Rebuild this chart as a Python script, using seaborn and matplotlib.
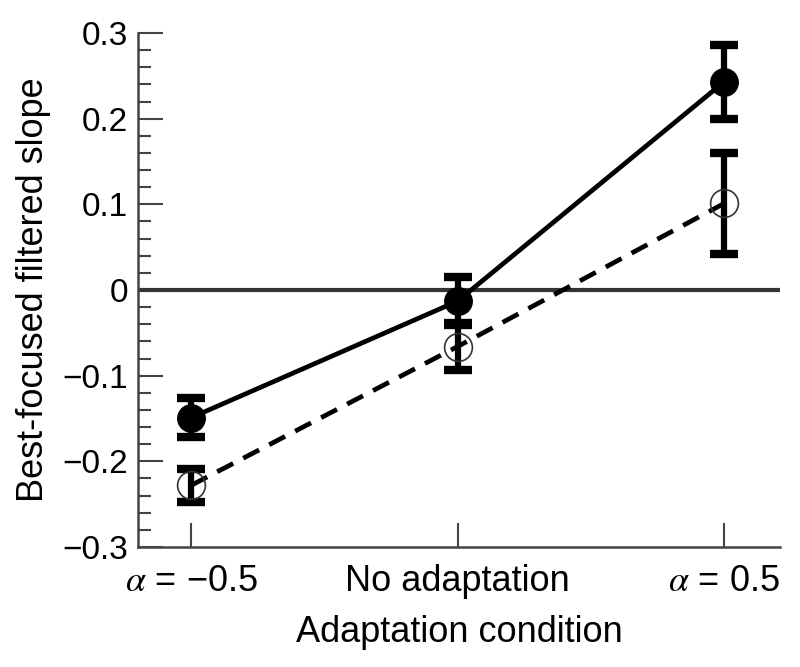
import numpy as np
import pandas as pd
import matplotlib
matplotlib.use('Agg')
import matplotlib.pyplot as plt
import seaborn as sns
from matplotlib.ticker import MultipleLocator

conditions = [r'$\alpha$ = −0.5', 'No adaptation', r'$\alpha$ = 0.5']
filled_mean = [-0.149, -0.013, 0.243]
filled_err = [0.023, 0.028, 0.043]
open_mean = [-0.228, -0.066, 0.101]
open_err = [0.019, 0.027, 0.059]
y_ticks = [-0.3, -0.2, -0.1, 0, 0.1, 0.2, 0.3]
y_ticklabels = ['−0.3', '−0.2', '−0.1', '0', '0.1', '0.2', '0.3']

sns.set_theme(style='ticks')
plt.rcParams['font.family'] = ['Liberation Sans', 'DejaVu Sans']
plt.rcParams['mathtext.fontset'] = 'stix'
plt.rcParams['text.color'] = 'black'
plt.rcParams['axes.labelcolor'] = 'black'
plt.rcParams['xtick.labelcolor'] = 'black'
plt.rcParams['ytick.labelcolor'] = 'black'

x = np.arange(len(conditions))
df = pd.DataFrame({'x': np.concatenate([x, x]),
                   'slope': filled_mean + open_mean,
                   'group': ['filled'] * 3 + ['open'] * 3})

fig = plt.figure(figsize=(8, 6.67), dpi=100)
ax = fig.add_axes([0.1725, 0.18, 0.8025, 0.7705])

ax.axhline(0, color='#333333', lw=3, zorder=1)

# error bars
ax.errorbar(x, open_mean, yerr=open_err, fmt='none', ecolor='black',
            elinewidth=4.5, capsize=10, capthick=6, zorder=2)
ax.errorbar(x, filled_mean, yerr=filled_err, fmt='none', ecolor='black',
            elinewidth=4.5, capsize=10, capthick=6, zorder=2)

sns.lineplot(data=df[df.group == 'filled'], x='x', y='slope', ax=ax,
             color='black', lw=3.4, marker='o', markersize=20,
             markerfacecolor='black', markeredgecolor='black', zorder=3)
sns.lineplot(data=df[df.group == 'open'], x='x', y='slope', ax=ax,
             color='black', lw=3.4, zorder=3)
ax.lines[-1].set_dashes([3.8, 2.4])
ax.plot(x, open_mean, 'o', markersize=20, markerfacecolor='none',
        markeredgecolor='#333333', markeredgewidth=1.2, zorder=4)

ax.set_xlim(-0.2, 2.21)
ax.set_ylim(-0.3, 0.3)
ax.set_xticks(x)
ax.set_xticklabels(conditions, fontsize=26)
ax.set_yticks(y_ticks)
ax.set_yticklabels(y_ticklabels)
ax.yaxis.set_minor_locator(MultipleLocator(0.02))
ax.tick_params(axis='y', which='major', direction='in', length=18, width=1.5,
               color='#444444', labelsize=24, pad=7)
ax.tick_params(axis='y', which='minor', direction='in', length=9, width=1.5,
               color='#444444')
ax.tick_params(axis='x', direction='in', length=17, width=1.5,
               color='#444444', pad=12)

for s in ['top', 'right']:
    ax.spines[s].set_visible(False)
for s in ['left', 'bottom']:
    ax.spines[s].set_color('#444444')
    ax.spines[s].set_linewidth(1.8)

ax.set_xlabel('Adaptation condition', fontsize=26, labelpad=12)
ax.set_ylabel('Best-focused filtered slope', fontsize=26, labelpad=8)

fig.savefig('out.png', dpi=100)
